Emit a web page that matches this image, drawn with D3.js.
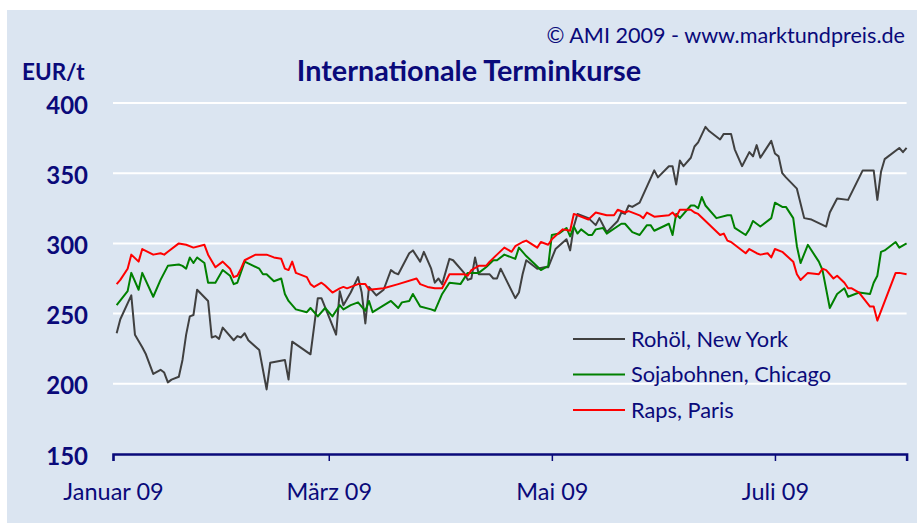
<!DOCTYPE html>
<html>
<head>
<meta charset="utf-8">
<script src="https://cdn.jsdelivr.net/npm/d3@7"></script>
<style>
  body { margin: 0; background: #ffffff; }
  svg { display: block; }
</style>
</head>
<body>
<div id="vis"></div>
<script>
// frame size
const FRAME_WIDTH = 917;
const FRAME_HEIGHT = 523;

// plot area
const MARGINS = {left: 113, right: 10.4, top: 103, bottom: 69};

const NAVY = "#0a0a7a";
const FONT = "Lato, 'Open Sans', sans-serif";

// data: days counted from 1 Jan 2009, prices in EUR/t
const ROHOEL_DAYS = [1, 2, 5, 6, 8, 9, 11, 13, 14, 15, 16, 18, 19, 20, 21, 22, 23, 26, 27, 28, 29, 30,
  33, 34, 35, 36, 37, 40, 41, 42, 43, 47, 48, 49, 54, 56, 57, 61, 62, 63, 65, 67, 68, 69, 70, 72,
  74, 76, 77, 78, 81, 82, 84, 85, 87, 88, 89, 90, 92, 93, 96, 97, 98, 99, 100, 103, 104, 105, 106,
  110, 111, 112, 113, 116, 118, 119, 121, 124, 125, 126, 127, 130, 132, 133, 135, 138, 139, 140,
  141, 142, 144, 148, 149, 152, 153, 154, 155, 156, 158, 159, 160, 162, 163, 166, 167, 169, 170,
  172, 174, 175, 176, 177, 180, 181, 182, 183, 184, 187, 189, 191, 195, 196, 198, 201, 205, 208,
  209, 210, 211, 215, 216, 217];
const ROHOEL = [236, 246, 263, 235, 226, 221, 207, 210, 208, 201, 203, 205, 217, 235, 248, 249, 267,
  259, 233, 234, 232, 240, 231, 234, 233, 236, 231, 224, 210, 196, 215, 217, 203, 230, 221, 261,
  261, 235, 266, 256, 265, 276, 265, 243, 269, 263, 267, 281, 279, 278, 293, 295, 287, 294, 282,
  272, 275, 271, 289, 288, 279, 274, 275, 290, 278, 278, 275, 275, 282, 261, 265, 278, 288, 282,
  283, 283, 296, 303, 295, 312, 321, 318, 313, 318, 308, 316, 322, 321, 327, 326, 329, 352, 347,
  355, 355, 342, 359, 355, 361, 369, 372, 383, 380, 374, 378, 378, 367, 355, 365, 362, 370, 361,
  373, 364, 362, 350, 347, 339, 318, 317, 312, 322, 332, 331, 352, 352, 331, 351, 360, 368, 365,
  368];

const SOJA_DAYS = [1, 4, 5, 7, 8, 11, 13, 15, 18, 19, 20, 21, 22, 23, 25, 26, 28, 30, 32, 33, 34, 36,
  40, 41, 42, 44, 46, 47, 48, 50, 53, 54, 56, 58, 60, 62, 63, 65, 67, 69, 70, 71, 76, 78, 79, 81,
  82, 84, 87, 88, 90, 92, 95, 97, 100, 102, 104, 105, 107, 110, 111, 113, 117, 119, 120, 122, 124,
  125, 126, 127, 128, 130, 131, 132, 134, 135, 139, 140, 142, 144, 146, 147, 148, 152, 153, 154,
  155, 158, 159, 160, 161, 162, 165, 168, 169, 170, 173, 174, 175, 177, 180, 181, 183, 184, 186,
  187, 188, 190, 193, 194, 196, 198, 200, 201, 204, 207, 208, 209, 210, 211, 214, 215, 217];
const SOJA = [256, 266, 279, 267, 279, 262, 274, 284, 285, 284, 282, 290, 286, 290, 286, 272, 272, 281,
  277, 271, 272, 287, 282, 278, 278, 273, 275, 264, 259, 253, 251, 254, 248, 254, 248, 256, 253,
  256, 258, 252, 259, 251, 259, 254, 258, 259, 264, 255, 253, 252, 264, 272, 271, 279, 279, 283,
  288, 288, 292, 289, 297, 291, 281, 284, 306, 307, 311, 305, 312, 307, 310, 306, 306, 310, 311,
  307, 314, 314, 308, 306, 313, 313, 309, 314, 306, 321, 318, 327, 327, 325, 333, 327, 318, 320,
  320, 311, 306, 310, 316, 312, 318, 329, 326, 326, 318, 298, 286, 299, 287, 281, 254, 264, 268,
  262, 265, 264, 272, 277, 294, 295, 301, 297, 300];

const RAPS_DAYS = [1, 2, 4, 5, 7, 8, 11, 13, 14, 15, 18, 20, 22, 25, 26, 28, 30, 32, 33, 34, 35, 36,
  39, 42, 44, 46, 47, 48, 49, 50, 53, 54, 55, 57, 58, 60, 62, 63, 64, 67, 69, 70, 74, 78, 83, 84,
  86, 88, 90, 92, 96, 97, 98, 100, 102, 103, 105, 107, 109, 110, 112, 113, 116, 117, 119, 120,
  123, 125, 126, 130, 132, 135, 137, 138, 140, 141, 144, 145, 146, 148, 152, 153, 154, 155, 158,
  159, 160, 162, 166, 167, 168, 169, 173, 174, 176, 177, 179, 180, 181, 183, 186, 187, 188, 190,
  193, 194, 195, 197, 198, 200, 201, 202, 204, 207, 208, 209, 214, 215, 217];
const RAPS = [271, 274, 282, 292, 287, 296, 292, 293, 292, 294, 300, 299, 297, 299, 292, 283, 287, 282,
  276, 277, 282, 288, 292, 292, 290, 289, 282, 281, 287, 279, 276, 271, 269, 272, 270, 265, 268,
  269, 268, 271, 271, 267, 268, 271, 275, 271, 269, 268, 268, 278, 278, 277, 281, 284, 284, 287,
  292, 297, 294, 298, 301, 302, 297, 301, 299, 303, 310, 309, 321, 317, 322, 320, 320, 324, 322,
  323, 320, 318, 322, 319, 320, 322, 319, 324, 324, 322, 321, 316, 306, 307, 302, 301, 293, 296,
  293, 292, 293, 290, 296, 294, 287, 278, 274, 279, 278, 282, 281, 275, 277, 272, 268, 268, 265,
  255, 255, 245, 279, 279, 278];

const SERIES_NAMES = ["Rohöl, New York", "Sojabohnen, Chicago", "Raps, Paris"];
const SERIES_COLORS = ["#404040", "#008000", "#ff0000"];
const Y_TICKS = [150, 200, 250, 300, 350, 400];
const X_TICK_MONTHS = [0, 2, 4, 6];
const X_TICK_LABELS = ["Januar 09", "März 09", "Mai 09", "Juli 09"];
const LAST_DAY = 217;

const START = new Date(2009, 0, 1);
const toDate = (d) => d3.timeDay.offset(START, d);

const series = [
  {name: SERIES_NAMES[0], color: SERIES_COLORS[0], days: ROHOEL_DAYS, values: ROHOEL},
  {name: SERIES_NAMES[1], color: SERIES_COLORS[1], days: SOJA_DAYS, values: SOJA},
  {name: SERIES_NAMES[2], color: SERIES_COLORS[2], days: RAPS_DAYS, values: RAPS}
];

const FRAME = d3.select("#vis")
  .append("svg")
  .attr("width", FRAME_WIDTH)
  .attr("height", FRAME_HEIGHT);

// light blue panel
FRAME.append("rect")
  .attr("x", 7)
  .attr("y", 10)
  .attr("width", FRAME_WIDTH - 7)
  .attr("height", FRAME_HEIGHT - 10)
  .attr("fill", "#dbe5f1");

// scales
const X_SCALE = d3.scaleTime()
  .domain([START, toDate(LAST_DAY)])
  .range([MARGINS.left, FRAME_WIDTH - MARGINS.right]);

const Y_SCALE = d3.scaleLinear()
  .domain([150, 400])
  .range([FRAME_HEIGHT - MARGINS.bottom, MARGINS.top]);

// white gridlines
FRAME.append("g")
  .selectAll("line")
  .data(Y_TICKS.slice(1))
  .enter()
  .append("line")
    .attr("x1", X_SCALE.range()[0])
    .attr("x2", X_SCALE.range()[1])
    .attr("y1", (d) => Y_SCALE(d))
    .attr("y2", (d) => Y_SCALE(d))
    .attr("stroke", "#ffffff")
    .attr("stroke-width", 2);

// y axis labels
const yAxis = FRAME.append("g")
  .attr("transform", "translate(" + 88 + ",0)")
  .call(d3.axisLeft(Y_SCALE).tickValues(Y_TICKS).tickSize(0).tickPadding(0));
yAxis.select(".domain").remove();
yAxis.selectAll("text")
  .attr("fill", NAVY)
  .attr("font-family", FONT)
  .attr("font-weight", "bold")
  .attr("font-size", "24px")
  .attr("dy", "0.42em");

// x axis
const xAxis = FRAME.append("g")
  .attr("transform", "translate(0," + Y_SCALE(150) + ")")
  .call(d3.axisBottom(X_SCALE)
    .tickValues(X_TICK_MONTHS.map((m) => new Date(2009, m, 1)))
    .tickFormat((d, i) => X_TICK_LABELS[i])
    .tickSizeOuter(0)
    .tickSize(7)
    .tickPadding(22));
xAxis.select(".domain")
  .attr("stroke", NAVY)
  .attr("stroke-width", 2.5);
xAxis.selectAll(".tick line")
  .attr("stroke", NAVY)
  .attr("stroke-width", 1.5);
xAxis.selectAll("text")
  .attr("fill", NAVY)
  .attr("font-family", FONT)
  .attr("font-size", "23.5px");

// lines
const line = d3.line()
  .x((d) => X_SCALE(toDate(d[0])))
  .y((d) => Y_SCALE(d[1]));

FRAME.append("g")
  .selectAll("path")
  .data(series)
  .enter()
  .append("path")
    .attr("d", (s) => line(s.days.map((d, i) => [d, s.values[i]])))
    .attr("fill", "none")
    .attr("stroke", (s) => s.color)
    .attr("stroke-width", 2)
    .attr("stroke-linejoin", "round");

// legend
const legend = FRAME.append("g")
  .selectAll("g")
  .data(series)
  .enter()
  .append("g")
    .attr("transform", (s, i) => "translate(573," + (339 + i * 35.5) + ")");
legend.append("line")
  .attr("x1", 0)
  .attr("x2", 52)
  .attr("stroke", (s) => s.color)
  .attr("stroke-width", 2);
legend.append("text")
  .attr("x", 58)
  .attr("dy", "0.35em")
  .attr("fill", NAVY)
  .attr("font-family", FONT)
  .attr("font-size", "21.8px")
  .text((s) => s.name);

// titles
FRAME.append("text")
  .attr("x", 905)
  .attr("y", 43)
  .attr("text-anchor", "end")
  .attr("fill", NAVY)
  .attr("font-family", FONT)
  .attr("font-size", "21.6px")
  .text("© AMI 2009 - www.marktundpreis.de");

FRAME.append("text")
  .attr("x", 22)
  .attr("y", 80)
  .attr("fill", NAVY)
  .attr("font-family", FONT)
  .attr("font-weight", "bold")
  .attr("font-size", "22.5px")
  .text("EUR/t");

FRAME.append("text")
  .attr("x", 469)
  .attr("y", 81)
  .attr("text-anchor", "middle")
  .attr("fill", NAVY)
  .attr("font-family", FONT)
  .attr("font-weight", "bold")
  .attr("font-size", "28.8px")
  .text("Internationale Terminkurse");
</script>
</body>
</html>
